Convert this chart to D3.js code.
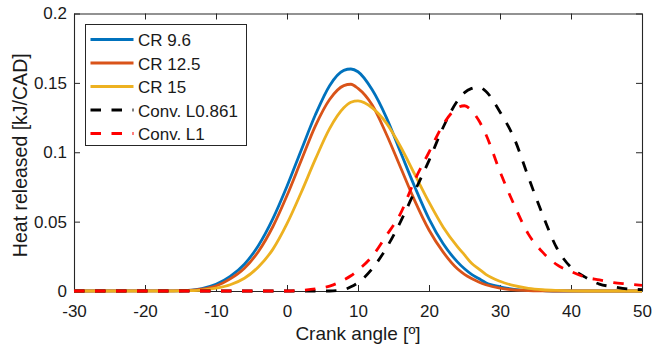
<!DOCTYPE html>
<html>
<head>
<meta charset="utf-8">
<script src="https://cdn.jsdelivr.net/npm/d3@7"></script>
<style>
  body { margin: 0; background: #fff; }
  svg { display: block; font-family: "Liberation Sans", Arial, Helvetica, sans-serif; }
</style>
</head>
<body>
<svg id="chart" width="652" height="350"></svg>
<script>
// crank angle samples [deg]
var angles = [-30, -16, -14, -12, -10, -8, -6, -4, -2, 0, 2, 4, 6, 8, 9, 10, 12, 14, 16, 18, 20, 22, 24, 25, 26, 27, 28, 30, 32, 34, 36, 38, 40, 42, 44, 46, 48, 50]

// heat released [kJ/CAD]
var cr96 = [0, 0.0001, 0.0005, 0.0018, 0.0048, 0.0105, 0.0193, 0.033, 0.052, 0.0755, 0.1015, 0.127, 0.148, 0.159, 0.160, 0.158, 0.145, 0.125, 0.100, 0.075, 0.052, 0.034, 0.021, 0.016, 0.012, 0.009, 0.006, 0.003, 0.0012, 0.0005, 0.0002, 0, 0, 0, 0, 0, 0, 0]
var cr125 = [0, 0.0001, 0.0004, 0.0013, 0.0036, 0.0087, 0.0164, 0.0287, 0.0463, 0.0688, 0.094, 0.119, 0.138, 0.148, 0.149, 0.146, 0.134, 0.113, 0.089, 0.065, 0.044, 0.028, 0.016, 0.012, 0.009, 0.0065, 0.0045, 0.002, 0.0008, 0.0003, 0.0001, 0, 0, 0, 0, 0, 0, 0]
var cr15 = [0, 0, 0.0002, 0.0007, 0.002, 0.0045, 0.0092, 0.0175, 0.030, 0.0485, 0.071, 0.095, 0.117, 0.132, 0.136, 0.137, 0.132, 0.121, 0.104, 0.084, 0.064, 0.046, 0.032, 0.026, 0.020, 0.016, 0.012, 0.007, 0.0038, 0.0019, 0.0009, 0.0004, 0.0001, 0, 0, 0, 0, 0]
var convL0861 = [0, 0, 0, 0, 0, 0, 0, 0, 0, 0, 0, 0, 0, 0.001, 0.003, 0.006, 0.016, 0.031, 0.050, 0.072, 0.094, 0.118, 0.137, 0.143, 0.146, 0.147, 0.144, 0.129, 0.110, 0.082, 0.055, 0.031, 0.017, 0.010, 0.005, 0.003, 0.0015, 0.001]
var convL1 = [0, 0, 0, 0, 0, 0, 0, 0, 0, 0, 0.0005, 0.0015, 0.0035, 0.008, 0.011, 0.015, 0.025, 0.040, 0.056, 0.080, 0.100, 0.120, 0.132, 0.1335, 0.130, 0.123, 0.113, 0.086, 0.062, 0.041, 0.028, 0.019, 0.014, 0.010, 0.008, 0.006, 0.005, 0.004]

var seriesNames = ['CR 9.6', 'CR 12.5', 'CR 15', 'Conv. L0.861', 'Conv. L1']
var xTicks = [-30, -20, -10, 0, 10, 20, 30, 40, 50]
var yTicks = [0, 0.05, 0.1, 0.15, 0.2]

var series = [
  {name: seriesNames[0], values: cr96, color: '#0072BD', dash: null},
  {name: seriesNames[1], values: cr125, color: '#D95319', dash: null},
  {name: seriesNames[2], values: cr15, color: '#EDB120', dash: null},
  {name: seriesNames[3], values: convL0861, color: '#000000', dash: '10.5,10.5'},
  {name: seriesNames[4], values: convL1, color: '#FF0000', dash: '10.5,10.5'}
]

var margin = {top: 13.5, right: 10, bottom: 59, left: 74}
var width = 652 - margin.left - margin.right,
    height = 350 - margin.top - margin.bottom

var svg = d3.select('#chart')
var g = svg.append('g').attr('transform', 'translate(' + margin.left + ',' + margin.top + ')')

var x = d3.scaleLinear().domain([-30, 50]).range([0, width])
var y = d3.scaleLinear().domain([0, 0.2]).range([height, 0])

var axisColor = '#262626'

// axes with inward ticks on all four sides, plain hyphen for negatives
var fmt = function(d) { return String(d) }
g.append('g').attr('transform', 'translate(0,' + height + ')')
  .call(d3.axisBottom(x).tickValues(xTicks).tickFormat(fmt).tickSizeInner(-6).tickSizeOuter(0).tickPadding(14))
g.append('g')
  .call(d3.axisLeft(y).tickValues(yTicks).tickFormat(fmt).tickSizeInner(-6).tickSizeOuter(0).tickPadding(7))
g.append('g')
  .call(d3.axisTop(x).tickValues(xTicks).tickFormat('').tickSizeInner(-6).tickSizeOuter(0))
g.append('g').attr('transform', 'translate(' + width + ',0)')
  .call(d3.axisRight(y).tickValues(yTicks).tickFormat('').tickSizeInner(-6).tickSizeOuter(0))

g.selectAll('.domain').attr('stroke', axisColor).attr('stroke-width', 1.1)
g.selectAll('.tick line').attr('stroke', axisColor).attr('stroke-width', 1)
g.selectAll('.tick text').attr('fill', '#1a1a1a').style('font-size', '17px')

// curves
var line = d3.line()
  .x(function(d, i) { return x(angles[i]) })
  .y(function(d) { return y(d) })
  .curve(d3.curveMonotoneX)

series.forEach(function(s) {
  g.append('path')
    .attr('d', line(s.values))
    .attr('fill', 'none')
    .attr('stroke', s.color)
    .attr('stroke-width', 2.8)
    .attr('stroke-dasharray', s.dash)
})

// axis labels
g.append('text')
  .attr('x', width / 2).attr('y', height + 49)
  .attr('text-anchor', 'middle')
  .attr('fill', '#1a1a1a')
  .style('font-size', '19px')
  .text('Crank angle [º]')

svg.append('text')
  .attr('transform', 'translate(27,' + (margin.top + height / 2 + 3) + ') rotate(-90)')
  .attr('text-anchor', 'middle')
  .attr('fill', '#1a1a1a')
  .style('font-size', '19.5px')
  .text('Heat released [kJ/CAD]')

// legend
var legend = svg.append('g').attr('transform', 'translate(85.5,24.5)')
legend.append('rect')
  .attr('width', 161).attr('height', 121)
  .attr('fill', '#fff')
  .attr('stroke', axisColor).attr('stroke-width', 1)

series.forEach(function(s, i) {
  var ly = 15 + i * 23.5
  legend.append('line')
    .attr('x1', 5).attr('x2', 48)
    .attr('y1', ly).attr('y2', ly)
    .attr('stroke', s.color)
    .attr('stroke-width', 2.8)
    .attr('stroke-dasharray', s.dash)
  legend.append('text')
    .attr('x', 52.5).attr('y', ly + 6.5)
    .attr('fill', '#1a1a1a')
    .style('font-size', '17px')
    .text(s.name)
})
</script>
</body>
</html>
